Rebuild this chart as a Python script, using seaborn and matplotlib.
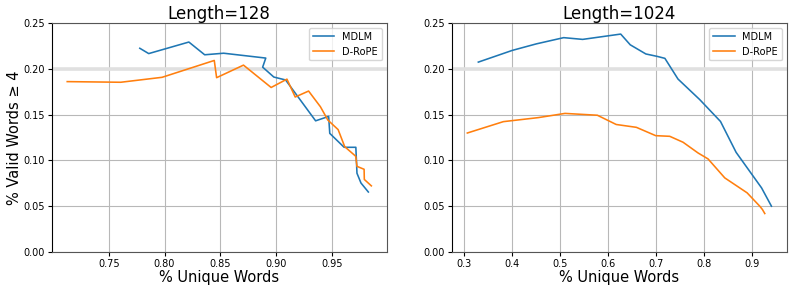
import matplotlib

matplotlib.use("Agg")
import matplotlib.pyplot as plt
import numpy as np
import pandas as pd
import seaborn as sns

MODELS = ["MDLM", "D-RoPE"]
COLORS = {"MDLM": "#1f77b4", "D-RoPE": "#ff7f0e"}

# Length=128
mdlm_128_unique = [0.7778, 0.7858, 0.8218, 0.8360, 0.8530, 0.8908, 0.8880, 0.8980, 0.9086,
                   0.9355, 0.9472, 0.9482, 0.9611, 0.9716, 0.9726, 0.9762, 0.9828]
mdlm_128_valid = [0.2224, 0.2166, 0.2292, 0.2153, 0.2170, 0.2117, 0.2018, 0.1910, 0.1878,
                  0.1432, 0.1480, 0.1295, 0.1143, 0.1143, 0.0860, 0.0753, 0.0655]
rope_128_unique = [0.7127, 0.7607, 0.7978, 0.8446, 0.8467, 0.8708, 0.8956, 0.9098, 0.9172, 0.9292,
                   0.9398, 0.9465, 0.9557, 0.9616, 0.9715, 0.9726, 0.9790, 0.9792, 0.9855]
rope_128_valid = [0.1860, 0.1853, 0.1907, 0.2091, 0.1903, 0.2040, 0.1796, 0.1887, 0.1692, 0.1757,
                  0.1586, 0.1440, 0.1336, 0.1150, 0.1045, 0.0935, 0.0903, 0.0792, 0.0722]

# Length=1024
mdlm_1024_unique = [0.3292, 0.4000, 0.4500, 0.5070, 0.5465, 0.6257, 0.6455, 0.6780, 0.7020,
                    0.7177, 0.7450, 0.7900, 0.8335, 0.8660, 0.9190, 0.9396]
mdlm_1024_valid = [0.2073, 0.2201, 0.2272, 0.2340, 0.2321, 0.2379, 0.2262, 0.2162, 0.2135,
                   0.2114, 0.1888, 0.1665, 0.1425, 0.1088, 0.0700, 0.0500]
rope_1024_unique = [0.3063, 0.3813, 0.4540, 0.5097, 0.5771, 0.6163, 0.6583, 0.6986, 0.7278,
                    0.7556, 0.7868, 0.8076, 0.8424, 0.8889, 0.9153, 0.9208, 0.9257]
rope_1024_valid = [0.1299, 0.1423, 0.1467, 0.1513, 0.1493, 0.1392, 0.1361, 0.1270, 0.1263,
                   0.1198, 0.1081, 0.1016, 0.0809, 0.0646, 0.0500, 0.0464, 0.0420]

Y_TICKS = [0.00, 0.05, 0.10, 0.15, 0.20, 0.25]


def build_frame(mdlm_x, mdlm_y, rope_x, rope_y) -> pd.DataFrame:
    parts = []
    for name, xs, ys in [("MDLM", mdlm_x, mdlm_y), ("D-RoPE", rope_x, rope_y)]:
        parts.append(pd.DataFrame({"unique": xs, "valid": ys, "model": name, "step": np.arange(len(xs))}))
    return pd.concat(parts, ignore_index=True)


def draw_panel(ax, df: pd.DataFrame, title: str, xticks) -> None:
    # the reference has a faint thick band on the 0.20 gridline
    ax.axhline(0.20, color="#e0e0e0", lw=2.6, zorder=0.6)
    sns.lineplot(data=df, x="unique", y="valid", hue="model", hue_order=MODELS, palette=COLORS,
                 sort=False, estimator=None, lw=1.15, ax=ax)
    ax.set_ylim(0, 0.25)
    ax.set_yticks(Y_TICKS)
    ax.set_xticks(xticks)
    ax.grid(True, color="#b8b8b8", lw=0.8)
    ax.set_axisbelow(True)
    ax.set_title(title, fontsize=12, pad=3)
    ax.set_xlabel("% Unique Words", fontsize=10.5, labelpad=1)
    ax.set_ylabel("")
    ax.tick_params(labelsize=7, length=3, pad=2)
    for side in ["top", "right", "bottom"]:
        ax.spines[side].set_color("#555555")
    leg = ax.legend(loc="upper right", fontsize=7, frameon=True, handlelength=2.2)
    leg.set_title(None)


def main() -> None:
    df_128 = build_frame(mdlm_128_unique, mdlm_128_valid, rope_128_unique, rope_128_valid)
    df_1024 = build_frame(mdlm_1024_unique, mdlm_1024_valid, rope_1024_unique, rope_1024_valid)

    fig, axes = plt.subplots(1, 2, figsize=(7.93, 2.91), dpi=100)
    fig.subplots_adjust(left=0.0656, right=0.992, bottom=0.134, top=0.921, wspace=0.196)

    draw_panel(axes[0], df_128, "Length=128", [0.75, 0.80, 0.85, 0.90, 0.95])
    draw_panel(axes[1], df_1024, "Length=1024", [0.3, 0.4, 0.5, 0.6, 0.7, 0.8, 0.9])
    axes[0].set_ylabel("% Valid Words \u2265 4", fontsize=10.5, labelpad=1)

    fig.savefig("out.png", dpi=100)
    plt.close(fig)


if __name__ == "__main__":
    main()
